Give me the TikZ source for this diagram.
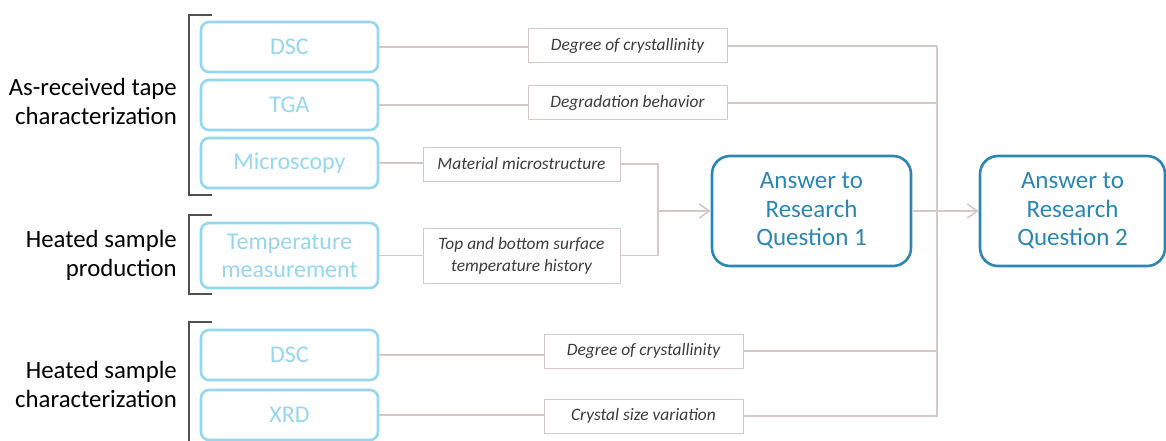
\documentclass[tikz,border=0pt]{standalone}
\usepackage{fontspec}
\setmainfont{Carlito}
\usetikzlibrary{arrows.meta}
\definecolor{lblue}{RGB}{150,214,238}
\definecolor{dblue}{RGB}{44,134,178}
\definecolor{conn}{RGB}{212,200,200}
\definecolor{brk}{RGB}{80,80,80}
\definecolor{ltxt}{RGB}{60,60,60}
\tikzset{
  x=1pt, y=-1pt,
  methbox/.style={draw=lblue, line width=2.6pt, rounded corners=8pt, text=lblue,
    minimum width=177pt, minimum height=50pt, inner sep=0pt, align=center,
    font=\fontsize{24}{28}\selectfont},
  resbox/.style={draw=conn, line width=1pt, fill=white, text=ltxt,
    minimum width=199pt, minimum height=34pt, inner sep=0pt, align=center,
    font=\fontsize{17.4}{22}\selectfont\itshape},
  rqbox/.style={draw=dblue, line width=2.6pt, rounded corners=18pt, text=dblue,
    minimum height=110pt, inner sep=0pt, align=center,
    font=\fontsize{25}{28.5}\selectfont},
  grp/.style={anchor=east, align=right, text=black, inner sep=0pt,
    font=\fontsize{24.8}{29}\selectfont},
  cn/.style={draw=conn, line width=1.6pt},
  brack/.style={draw=brk, line width=1.3pt},
  arr/.style={cn, -{Straight Barb[length=10pt,width=14pt,line width=1.6pt]}},
}
\begin{document}
\begin{tikzpicture}
\useasboundingbox (0,0) rectangle (1166,441);
% method boxes
\node[methbox] (dsc1) at (289.5,47) {DSC};
\node[methbox] (tga) at (289.5,105) {TGA};
\node[methbox] (mic) at (289.5,163) {Microscopy};
\node[methbox, minimum height=65pt] (tmp) at (289.5,255.5) {Temperature\\measurement};
\node[methbox] (dsc2) at (289.5,355) {DSC};
\node[methbox] (xrd) at (289.5,415) {XRD};
% result boxes
\node[resbox] (r1) at (627.5,46) {Degree of crystallinity};
\node[resbox] (r2) at (627.5,103) {Degradation behavior};
\node[resbox, minimum width=197pt] (r3) at (521.5,164) {Material microstructure};
\node[resbox, minimum width=197pt, minimum height=55pt] (r4) at (521.5,255.5) {Top and bottom surface\\temperature history};
\node[resbox] (r5) at (643.5,351) {Degree of crystallinity};
\node[resbox] (r6) at (643.5,416) {Crystal size variation};
% research questions
\node[rqbox, minimum width=199pt] (q1) at (811.5,211) {Answer to\\Research\\Question 1};
\node[rqbox, minimum width=185pt] (q2) at (1072.5,211) {Answer to\\Research\\Question 2};
% group labels
\node[grp] (g1) at (177,101) {As-received tape\\characterization};
\node[grp] (g2) at (177,255) {Heated sample\\production};
\node[grp] (g3) at (177,384) {Heated sample\\characterization};
% brackets
\draw[brack] (212,15) -- (189,15) -- (189,195) -- (212,195);
\draw[brack] (212,215) -- (189,215) -- (189,294) -- (212,294);
\draw[brack] (212,322) -- (189,322) -- (189,445);
% coordinates
\coordinate (vt) at (937,46);
\coordinate (v2) at (937,103);
\coordinate (v5) at (937,351);
\coordinate (vb) at (937,416);
\coordinate (jt) at (658,164);
\coordinate (jb) at (658,255.5);
\coordinate (jm) at (658,211);
% connectors
\draw[cn] (dsc1.east) -- (dsc1.east -| r1.west);
\draw[cn] (r1.east) -- (vt);
\draw[cn] (tga.east) -- (tga.east -| r2.west);
\draw[cn] (r2.east) -- (v2);
\draw[cn] (mic.east) -- (mic.east -| r3.west);
\draw[cn] (tmp.east) -- (r4.west);
\draw[cn] (r3.east) -- (jt) -- (jb) -- (r4.east);
\draw[arr] (jm) -- (q1.west);
\draw[cn] (dsc2.east) -- (dsc2.east -| r5.west);
\draw[cn] (r5.east) -- (v5);
\draw[cn] (xrd.east) -- (xrd.east -| r6.west);
\draw[cn] (r6.east) -- (vb) -- (vt);
\draw[arr] (q1.east) -- (q2.west);
\end{tikzpicture}
\end{document}
